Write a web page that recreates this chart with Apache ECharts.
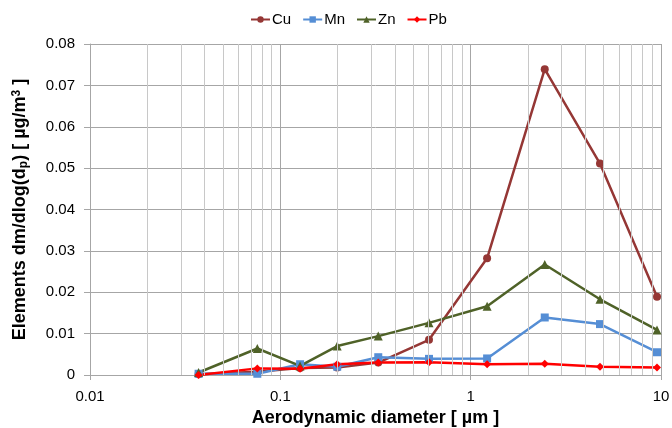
<!DOCTYPE html>
<html>
<head>
<meta charset="utf-8">
<script src="https://cdn.jsdelivr.net/npm/echarts@6/dist/echarts.min.js"></script>
<style>
  html, body { margin: 0; padding: 0; background: #fff; }
  #chart { width: 672px; height: 428px; }
</style>
</head>
<body>
<div id="chart"></div>
<script>
// Stage cut-point aerodynamic diameters (µm)
const diameters = [0.0372, 0.0757, 0.127, 0.199, 0.327, 0.604, 1.22, 2.45, 4.78, 9.53];

// dm/dlog(dp) in µg/m³ per element
const cu = [0.0002, 0.0008, 0.0017, 0.0018, 0.0030, 0.0085, 0.0282, 0.0739, 0.0511, 0.0189];
const mn = [0.0003, 0.0003, 0.0026, 0.0020, 0.0043, 0.0039, 0.0040, 0.0139, 0.0123, 0.0055];
const zn = [0.0006, 0.0064, 0.0022, 0.0070, 0.0094, 0.0126, 0.0166, 0.0267, 0.0183, 0.0109];
const pb = [0.0000, 0.0016, 0.0015, 0.0026, 0.0030, 0.0031, 0.0026, 0.0027, 0.0020, 0.0018];

const seriesNames = ['Cu', 'Mn', 'Zn', 'Pb'];

// Minor log gridlines (2..9 within each decade)
const minorGrid = [0.02, 0.03, 0.04, 0.05, 0.06, 0.07, 0.08, 0.09,
                   0.2, 0.3, 0.4, 0.5, 0.6, 0.7, 0.8, 0.9,
                   2, 3, 4, 5, 6, 7, 8, 9];

const FONT = '"Liberation Sans", Arial, sans-serif';

function pairs(ys) { return diameters.map((d, i) => [d, ys[i]]); }

const chart = echarts.init(document.getElementById('chart'), null, { renderer: 'canvas' });

function lineSeries(name, ys, color, symbol, size) {
  return {
    name: name,
    type: 'line',
    data: pairs(ys),
    symbol: symbol,
    symbolSize: size,
    z: 3,
    lineStyle: { color: color, width: 2.5 },
    itemStyle: { color: color },
    emphasis: { disabled: true }
  };
}

chart.setOption({
  animation: false,
  textStyle: { fontFamily: FONT },
  legend: {
    data: seriesNames,
    top: 7,
    left: 245,
    itemGap: 11,
    itemWidth: 19,
    itemHeight: 8,
    textStyle: { fontSize: 15, color: '#000', fontFamily: FONT, padding: [0, 0, 0, -3] }
  },
  grid: {
    left: 90, right: 11, top: 44, bottom: 53,
    containLabel: false,
    outerBoundsMode: 'none'
  },
  xAxis: {
    type: 'log',
    logBase: 10,
    min: 0.01,
    max: 10,
    name: 'Aerodynamic diameter [ µm ]',
    nameLocation: 'middle',
    nameGap: 31,
    nameTextStyle: { fontSize: 18, fontWeight: 'bold', color: '#000', fontFamily: FONT },
    axisLine: { show: true, lineStyle: { color: '#a6a6a6', width: 1 } },
    axisTick: { show: true, length: 5, lineStyle: { color: '#a6a6a6' } },
    axisLabel: {
      fontSize: 15, color: '#000', margin: 14, fontFamily: FONT,
      formatter: v => String(Number(v.toPrecision(6)))
    },
    splitLine: { show: true, lineStyle: { color: '#a6a6a6', width: 1 } }
  },
  yAxis: {
    type: 'value',
    min: 0,
    max: 0.08,
    interval: 0.01,
    name: 'Elements dm/dlog(d{sub|p}) [ µg/m{sup|3} ]',
    nameLocation: 'middle',
    nameGap: 60,
    nameRotate: 90,
    nameTextStyle: {
      fontSize: 18, fontWeight: 'bold', color: '#000', fontFamily: FONT,
      rich: {
        sub: { fontSize: 12, fontWeight: 'bold', verticalAlign: 'bottom', padding: [7, 0, 0, 0], fontFamily: FONT },
        sup: { fontSize: 12, fontWeight: 'bold', verticalAlign: 'top', padding: [0, 0, 7, 0], fontFamily: FONT }
      }
    },
    axisLine: { show: true, lineStyle: { color: '#a6a6a6', width: 1 } },
    axisTick: { show: true, length: 6, lineStyle: { color: '#a6a6a6' } },
    axisLabel: {
      fontSize: 15, color: '#000', margin: 15, fontFamily: FONT,
      formatter: v => (v === 0 ? '0' : v.toFixed(2))
    },
    splitLine: { show: true, lineStyle: { color: '#a6a6a6', width: 1 } }
  },
  series: [
    {
      name: 'grid-minor',
      type: 'line',
      data: [],
      silent: true,
      z: 1,
      markLine: {
        silent: true,
        symbol: 'none',
        animation: false,
        label: { show: false },
        lineStyle: { color: '#c8c8c8', width: 1, type: 'solid' },
        emphasis: { disabled: true },
        data: minorGrid.map(v => ({ xAxis: v }))
      }
    },
    lineSeries('Cu', cu, '#953735', 'circle', 8),
    lineSeries('Mn', mn, '#558ED5', 'rect', 8),
    lineSeries('Zn', zn, '#4F6228', 'triangle', 9),
    lineSeries('Pb', pb, '#FF0000', 'diamond', 8)
  ]
});
</script>
</body>
</html>
